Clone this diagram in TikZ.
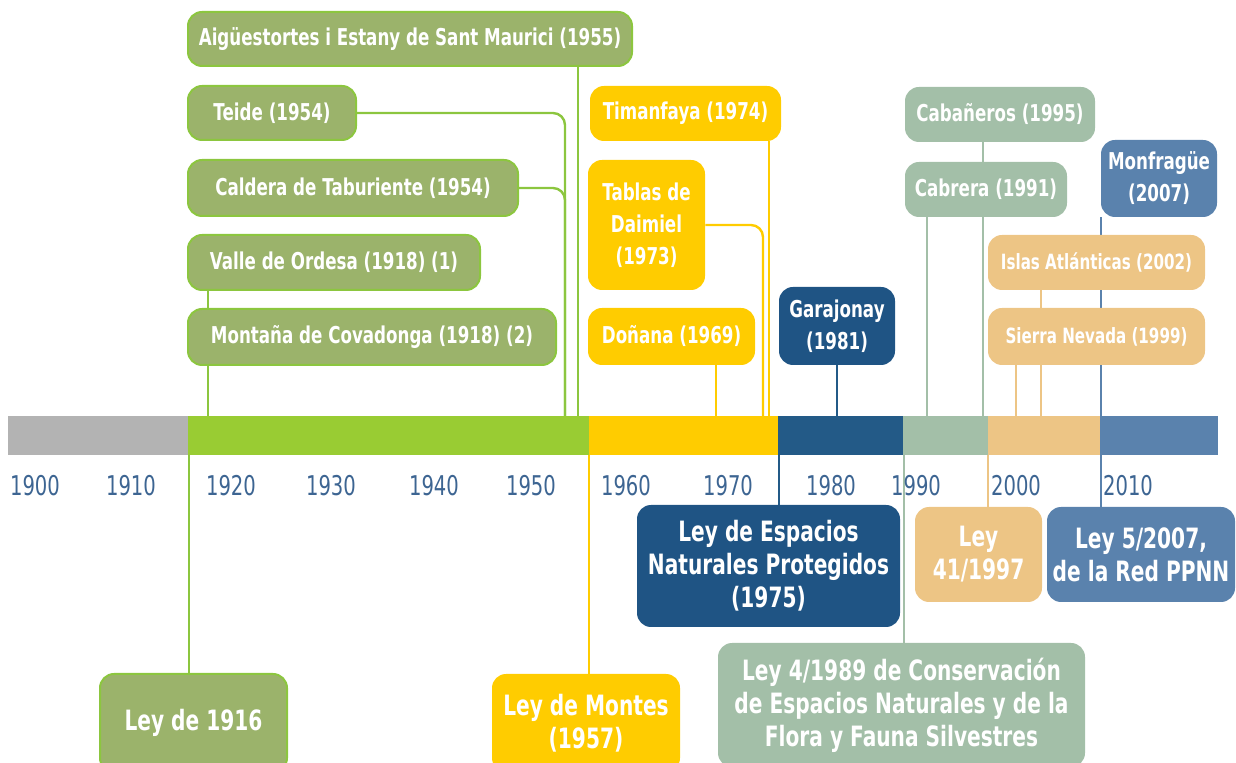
\documentclass[tikz,border=0pt]{standalone}
\usepackage{fontspec}
\setmainfont{DejaVu Sans}[FakeStretch=0.72]
\usetikzlibrary{backgrounds}
\definecolor{gris}{HTML}{B3B3B3}
\definecolor{verde}{HTML}{99CC33}
\definecolor{oliva}{HTML}{9BB36B}
\definecolor{lima}{HTML}{8CC63F}
\definecolor{amarillo}{HTML}{FFCC00}
\definecolor{azul}{HTML}{235A87}
\definecolor{azulosc}{HTML}{1F5484}
\definecolor{salvia}{HTML}{A3BFA8}
\definecolor{arena}{HTML}{EDC585}
\definecolor{acero}{HTML}{5A82AD}
\definecolor{anio}{HTML}{3D6592}

\begin{document}
\begin{tikzpicture}[x=0.5pt,y=-0.5pt,
    caja/.style={rounded corners=7pt,inner sep=0pt,text=white,align=center,font=\bfseries\fontsize{11.6}{16}\selectfont},
    grande/.style={font=\bfseries\fontsize{14}{16.5}\selectfont},
    chica/.style={font=\bfseries\fontsize{10.5}{14}\selectfont},
    cverde/.style={caja,fill=oliva,draw=lima,line width=1pt},
    camar/.style={caja,fill=amarillo},
    cazul/.style={caja,fill=azulosc},
    csalvia/.style={caja,fill=salvia},
    carena/.style={caja,fill=arena},
    cacero/.style={caja,fill=acero},
    lin/.style={line width=1.2pt},
    anio/.style={text=anio,font=\fontsize{13.6}{15}\selectfont}]
\useasboundingbox (0,0) rectangle (1236,763);
\clip (0,0) rectangle (1236,763);

\foreach \c/\i/\f in {gris/8/188,verde/188/589,amarillo/589/778,azul/778/903,salvia/903/988,arena/988/1100,acero/1100/1218}
    \fill[\c] (\i,416) rectangle (\f,455);
\foreach \a/\x in {1900/35,1910/131,1920/231,1930/331,1940/434,1950/531,1960/626,1970/728,1980/831,1990/916,2000/1016,2010/1128}
    \node[anio] (y\a) at (\x,486) {\a};

\foreach \n/\x in {1918/208,1954/565,1955/578,1969/716,1973/763,1974/769,1981/837,1991/927,1995/983,1999/1016,2002/1041,2007/1101}
    \coordinate (a\n) at (\x,416);
\foreach \n/\x in {1916/189,1957/589,1975/779,1989/904,1997/988,2007/1101}
    \coordinate (b\n) at (\x,455);

\node[cverde,minimum width=222pt,minimum height=27pt] (aigues) at (410,39) {Aigüestortes i Estany de Sant Maurici (1955)};
\node[cverde,minimum width=84pt,minimum height=27pt] (teide) at (272,113) {Teide (1954)};
\node[cverde,minimum width=165pt,minimum height=28pt] (caldera) at (353,188) {Caldera de Taburiente (1954)};
\node[cverde,minimum width=146pt,minimum height=27.5pt] (ordesa) at (334,262.5) {Valle de Ordesa (1918) (1)};
\node[cverde,minimum width=184pt,minimum height=28pt] (covadonga) at (372,337) {Montaña de Covadonga (1918) (2)};
\node[cverde,grande,minimum width=93.5pt,minimum height=49pt] (ley1916) at (193.5,723) {Ley de 1916};

\node[camar,minimum width=95.5pt,minimum height=27.5pt] (timanfaya) at (685.5,113.5) {Timanfaya (1974)};
\node[camar,minimum width=58.5pt,minimum height=65pt] (daimiel) at (646.5,225) {Tablas de\\Daimiel\\(1973)};
\node[camar,minimum width=83.5pt,minimum height=28.5pt] (donana) at (671.5,336.5) {Doñana (1969)};
\node[camar,grande,minimum width=94pt,minimum height=49pt] (montes) at (586,723) {Ley de Montes\\(1957)};

\node[cazul,minimum width=58pt,minimum height=39pt] (garajonay) at (837,326) {Garajonay\\(1981)};
\node[cazul,grande,minimum width=131.5pt,minimum height=61pt] (leyenp) at (768.5,566) {Ley de Espacios\\Naturales Protegidos\\(1975)};

\node[csalvia,minimum width=95pt,minimum height=27.5pt] (cabaneros) at (1000,114.5) {Cabañeros (1995)};
\node[csalvia,minimum width=81pt,minimum height=27.5pt] (cabrera) at (986,189.5) {Cabrera (1991)};
\node[csalvia,grande,minimum width=183.5pt,minimum height=62pt] (ley1989) at (901.5,705) {Ley 4/1989 de Conservación\\de Espacios Naturales y de la\\Flora y Fauna Silvestres};

\node[carena,chica,minimum width=108.5pt,minimum height=27.5pt] (islas) at (1096.5,262.5) {Islas Atlánticas (2002)};
\node[carena,chica,minimum width=108.5pt,minimum height=28.5pt] (sierra) at (1096.5,336.5) {Sierra Nevada (1999)};
\node[carena,grande,minimum width=63.5pt,minimum height=47.5pt] (ley1997) at (978.5,554.5) {Ley\\41/1997};

\node[cacero,minimum width=58pt,minimum height=38.5pt] (monfrague) at (1159,178.5) {Monfragüe\\(2007)};
\node[cacero,grande,minimum width=94pt,minimum height=47.5pt] (ley2007) at (1141,554.5) {Ley 5/2007,\\de la Red PPNN};

\begin{scope}[on background layer={lin}]
\draw[lima] (aigues.south -| a1955) -- (a1955);
\draw[lima,rounded corners=6pt] (teide.east) -| (a1954);
\draw[lima,rounded corners=6pt] (caldera.east) -| (a1954);
\draw[lima] (ordesa.south -| a1918) -- (a1918);
\draw[lima] (b1916) -- (ley1916.north -| b1916);
\draw[amarillo] (timanfaya.south -| a1974) -- (a1974);
\draw[amarillo,rounded corners=6pt] (daimiel.east) -| (a1973);
\draw[amarillo] (donana.south -| a1969) -- (a1969);
\draw[amarillo] (b1957) -- (montes.north -| b1957);
\draw[azul] (garajonay.south -| a1981) -- (a1981);
\draw[azul] (b1975) -- (leyenp.north -| b1975);
\draw[salvia] (cabaneros.south -| a1995) -- (a1995);
\draw[salvia] (cabrera.south -| a1991) -- (a1991);
\draw[salvia] (b1989) -- (ley1989.north -| b1989);
\draw[arena] (islas.south -| a2002) -- (a2002);
\draw[arena] (sierra.south -| a1999) -- (a1999);
\draw[arena] (b1997) -- (ley1997.north -| b1997);
\draw[acero] (monfrague.south -| a2007) -- (a2007);
\draw[acero] (b2007) -- (ley2007.north -| b2007);
\end{scope}
\end{tikzpicture}
\end{document}
